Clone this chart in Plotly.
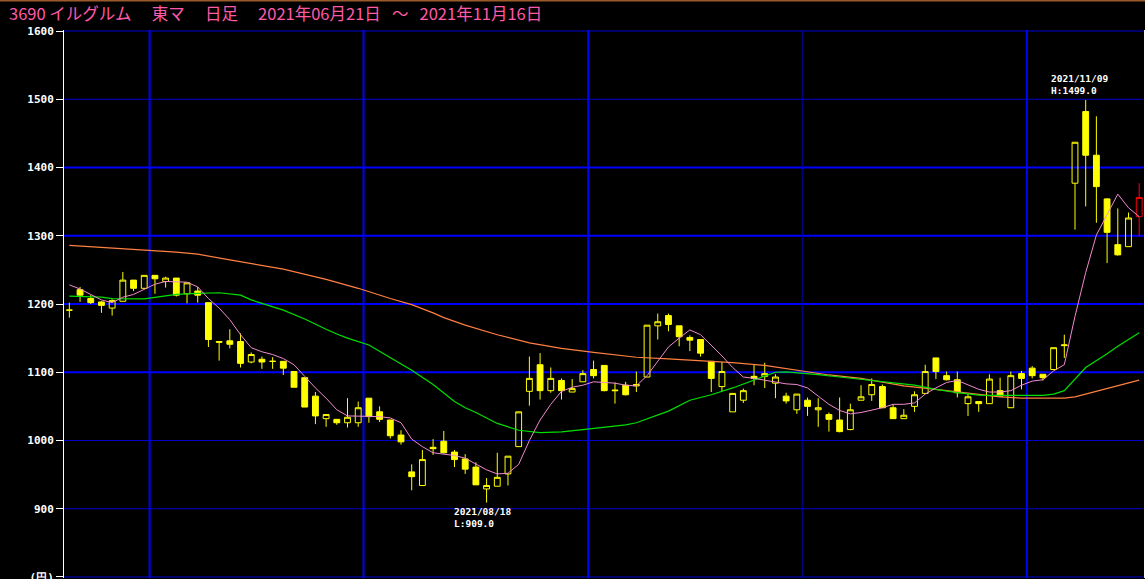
import plotly.graph_objects as go

# ---------------- data ----------------
month_days = {
    "2021-06": [21, 22, 23, 24, 25, 28, 29, 30],
    "2021-07": [1, 2, 5, 6, 7, 8, 9, 12, 13, 14, 15, 16, 19, 20, 21, 26, 27, 28, 29, 30],
    "2021-08": [2, 3, 4, 5, 6, 10, 11, 12, 13, 16, 17, 18, 19, 20, 23, 24, 25, 26, 27, 30, 31],
    "2021-09": [1, 2, 3, 6, 7, 8, 9, 10, 13, 14, 15, 16, 17, 21, 22, 24, 27, 28, 29, 30],
    "2021-10": [1, 4, 5, 6, 7, 8, 11, 12, 13, 14, 15, 18, 19, 20, 21, 22, 25, 26, 27, 28, 29],
    "2021-11": [1, 2, 4, 5, 8, 9, 10, 11, 12, 15, 16],
}
dates = [f"{m}-{d:02d}" for m, ds in month_days.items() for d in ds]

opens = [1191, 1221, 1208, 1203, 1194, 1204, 1235, 1223, 1242, 1233,
         1238, 1215, 1219, 1202, 1145, 1146, 1145, 1115, 1119, 1116,
         1116, 1101, 1092, 1065, 1032, 1031, 1026, 1026, 1062, 1042,
         1030, 1008, 954, 934, 990, 999, 983, 973, 961, 929,
         933, 951, 991, 1072, 1111, 1073, 1088, 1071, 1086, 1104,
         1110, 1074, 1081, 1080, 1093, 1168, 1183, 1168, 1151, 1148,
         1116, 1079, 1042, 1059, 1094, 1094, 1084, 1065, 1045, 1059,
         1045, 1038, 1030, 1016, 1059, 1067, 1079, 1048, 1032, 1050,
         1069, 1121, 1095, 1089, 1054, 1057, 1054, 1073, 1048, 1098,
         1106, 1097, 1104, 1139, 1377, 1482, 1418, 1354, 1287, 1284,
         1328]
highs = [1202, 1225, 1213, 1204, 1207, 1247, 1235, 1242, 1242, 1240,
         1238, 1231, 1225, 1202, 1145, 1163, 1157, 1129, 1123, 1122,
         1116, 1101, 1092, 1071, 1038, 1031, 1062, 1057, 1062, 1050,
         1030, 1015, 965, 986, 1002, 1014, 986, 980, 968, 945,
         982, 977, 1042, 1123, 1128, 1107, 1091, 1090, 1103, 1117,
         1110, 1085, 1086, 1101, 1169, 1186, 1186, 1168, 1154, 1148,
         1116, 1115, 1069, 1076, 1111, 1114, 1097, 1070, 1068, 1063,
         1062, 1041, 1063, 1054, 1081, 1091, 1082, 1053, 1046, 1072,
         1111, 1121, 1101, 1101, 1068, 1057, 1097, 1092, 1101, 1102,
         1109, 1097, 1136, 1155, 1437, 1499, 1475, 1355, 1340, 1334,
         1377]
lows = [1180, 1203, 1200, 1187, 1183, 1204, 1219, 1222, 1215, 1224,
        1211, 1201, 1202, 1137, 1117, 1135, 1107, 1113, 1105, 1105,
        1096, 1078, 1049, 1024, 1020, 1023, 1019, 1020, 1026, 1027,
        1003, 994, 927, 934, 979, 981, 961, 951, 935, 909,
        933, 934, 991, 1051, 1060, 1070, 1060, 1071, 1086, 1091,
        1072, 1054, 1066, 1071, 1093, 1148, 1160, 1138, 1131, 1123,
        1071, 1072, 1042, 1055, 1081, 1077, 1062, 1054, 1039, 1036,
        1020, 1013, 1012, 1015, 1059, 1058, 1048, 1032, 1032, 1042,
        1069, 1090, 1088, 1063, 1036, 1042, 1054, 1065, 1048, 1075,
        1091, 1088, 1104, 1121, 1309, 1343, 1319, 1260, 1271, 1284,
        1300]
closes = [1191, 1213, 1202, 1198, 1205, 1235, 1223, 1242, 1237, 1238,
          1213, 1231, 1213, 1148, 1144, 1141, 1113, 1126, 1115, 1116,
          1106, 1078, 1049, 1036, 1038, 1026, 1034, 1048, 1035, 1031,
          1007, 998, 947, 972, 988, 982, 972, 958, 935, 934,
          946, 977, 1042, 1091, 1073, 1091, 1073, 1076, 1098, 1095,
          1073, 1073, 1067, 1082, 1169, 1174, 1170, 1152, 1147, 1128,
          1091, 1101, 1069, 1073, 1091, 1098, 1093, 1058, 1068, 1050,
          1048, 1031, 1013, 1045, 1064, 1082, 1048, 1032, 1037, 1067,
          1101, 1101, 1089, 1070, 1064, 1054, 1090, 1065, 1095, 1091,
          1095, 1092, 1136, 1140, 1437, 1418, 1372, 1305, 1272, 1326,
          1356]

# 5-day moving average (pink), read per session
ma5 = [1228, 1222, 1214, 1206, 1202, 1210, 1214, 1222, 1229, 1233,
       1232, 1232, 1225, 1208, 1194, 1177, 1155, 1136, 1130, 1126,
       1120, 1111, 1094, 1077, 1062, 1045, 1036, 1036, 1036, 1035,
       1033, 1026, 1002, 991, 982, 980, 978, 974, 965, 957,
       951, 952, 965, 1000, 1030, 1053, 1072, 1078, 1081, 1086,
       1085, 1084, 1081, 1080, 1095, 1116, 1137, 1150, 1162, 1155,
       1140, 1124, 1107, 1093, 1091, 1088, 1086, 1083, 1082, 1077,
       1065, 1053, 1044, 1039, 1041, 1044, 1048, 1053, 1053, 1055,
       1068, 1077, 1085, 1088, 1082, 1075, 1071, 1071, 1073, 1081,
       1087, 1089, 1102, 1111, 1182, 1246, 1301, 1332, 1361, 1341,
       1328]

# 25-day moving average (green), read at sample sessions
ma25_idx = [0, 3, 4, 7, 9, 10, 12, 14, 16, 17, 18, 19, 20, 22, 23, 24, 25, 26, 28,
            30, 32, 34, 36, 37, 38, 40, 42, 44, 46, 48, 50, 52, 53, 56, 58, 60, 62,
            64, 66, 67, 68, 70, 72, 74, 76, 79, 81, 83, 85, 86, 91, 92, 93, 95, 97,
            98, 100]
ma25_val = [1211.6, 1210, 1208, 1207.5, 1212, 1214, 1215.5, 1216.5, 1213, 1206, 1201,
            1196, 1191, 1178, 1170, 1163, 1156, 1150, 1140, 1121, 1103, 1082, 1057,
            1048, 1041, 1025, 1015, 1011.6, 1012.6, 1016, 1019.5, 1022.8, 1026, 1043,
            1059, 1067, 1077, 1088, 1100, 1100.5, 1099.5, 1096.5, 1093, 1089.5, 1087,
            1081, 1075, 1070, 1066.5, 1066, 1066, 1068, 1073, 1107, 1127, 1138, 1158]

# 75-day moving average (orange), read at sample sessions
ma75_idx = [0, 1, 3, 5, 7, 8, 9, 10, 11, 12, 15, 20, 24, 27, 30, 32, 34, 35, 37, 40,
            43, 46, 49, 53, 56, 59, 62, 65, 68, 71, 74, 76, 78, 81, 84, 87, 89, 93,
            94, 97, 100]
ma75_val = [1286, 1285, 1283, 1282, 1280, 1279, 1277.5, 1276, 1274.5, 1273, 1264.7,
            1251, 1236, 1223, 1208, 1199, 1187, 1180, 1169, 1155, 1143, 1135, 1129,
            1122, 1119.7, 1117, 1114, 1110, 1103, 1096, 1091, 1086, 1080, 1075, 1069,
            1064, 1062, 1062, 1064, 1076, 1088.5]

month_starts = ["2021-07-01", "2021-08-02", "2021-09-01", "2021-10-01", "2021-11-01"]
y_ticks = [800, 900, 1000, 1100, 1200, 1300, 1400, 1500, 1600]
y_ticktext = ["(円)", "900", "1000", "1100", "1200", "1300", "1400", "1500", "1600"]

NB = "\u00a0"
title_text = ("3690" + NB + "イルグルム　" + NB + "東マ　" + NB + "日足　" + NB +
              "2021年06月21日" + NB * 3 + "～" + NB * 3 + "2021年11月16日")

# ---------------- figure ----------------
W, H = 1145, 579
ML, MR, MT, MB = 64, 1, 30, 1
n = len(dates)
xs = list(range(n))
last = n - 1

fig = go.Figure()

YEL = "#ffff00"
fig.add_trace(go.Candlestick(
    x=xs[:last], open=opens[:last], high=highs[:last], low=lows[:last], close=closes[:last],
    increasing=dict(line=dict(color=YEL, width=1), fillcolor="rgba(0,0,0,0)"),
    decreasing=dict(line=dict(color=YEL, width=1), fillcolor=YEL),
    whiskerwidth=0, hoverinfo="skip", showlegend=False,
))
fig.add_trace(go.Candlestick(
    x=[xs[last]], open=[opens[last]], high=[highs[last]], low=[lows[last]], close=[closes[last]],
    increasing=dict(line=dict(color="#ff0000", width=1), fillcolor="rgba(0,0,0,0)"),
    decreasing=dict(line=dict(color="#ff0000", width=1), fillcolor="#ff0000"),
    whiskerwidth=0, hoverinfo="skip", showlegend=False,
))

fig.add_trace(go.Scatter(x=ma75_idx, y=ma75_val, mode="lines",
                         line=dict(color="#ff8040", width=1.2), hoverinfo="skip", showlegend=False))
fig.add_trace(go.Scatter(x=ma25_idx, y=ma25_val, mode="lines",
                         line=dict(color="#00e000", width=1.2), hoverinfo="skip", showlegend=False))
fig.add_trace(go.Scatter(x=xs, y=ma5, mode="lines",
                         line=dict(color="#f08ad0", width=1), hoverinfo="skip", showlegend=False))

shapes = []
for v in y_ticks:
    strong = v in (1100, 1200, 1300, 1400)
    shapes.append(dict(type="line", xref="paper", yref="y", x0=0, x1=1, y0=v, y1=v,
                       layer="below",
                       line=dict(color="#0000ff" if strong else "#0000d0", width=2 if strong else 1)))
for d in month_starts:
    i = dates.index(d) - 0.5
    strong = d != "2021-10-01"
    shapes.append(dict(type="line", xref="x", yref="paper", x0=i, x1=i, y0=0, y1=1,
                       layer="below",
                       line=dict(color="#0000ff" if strong else "#0000c0", width=2 if strong else 1)))
plot_h = H - MT - MB
plot_w = W - ML - MR
shapes.append(dict(type="line", xref="paper", yref="paper", x0=-ML / plot_w, x1=1 + MR / plot_w,
                   y0=1 + (MT - 0.5) / plot_h, y1=1 + (MT - 0.5) / plot_h,
                   line=dict(color="#9a5a2a", width=2)))

annotations = [
    dict(xref="paper", yref="paper", x=(7 - ML) / plot_w, y=1 + (MT - 13) / plot_h,
         xanchor="left", yanchor="middle", showarrow=False, text=title_text,
         font=dict(family="Noto Sans CJK JP", size=16.5, color="#ff5aa8")),
]
hi_i = highs.index(max(highs))
lo_i = lows.index(min(lows))
annotations.append(dict(x=hi_i, y=highs[hi_i], xref="x", yref="y", xanchor="left", yanchor="bottom",
                        xshift=-37, yshift=2, showarrow=False, align="left",
                        text=f"{dates[hi_i].replace('-', '/')}<br>H:{highs[hi_i]:.1f}",
                        font=dict(family="DejaVu Sans Mono", size=9.5, color="#ffffff", weight="bold")))
annotations.append(dict(x=lo_i, y=lows[lo_i], xref="x", yref="y", xanchor="left", yanchor="top",
                        xshift=-35, yshift=-1, showarrow=False, align="left",
                        text=f"{dates[lo_i].replace('-', '/')}<br>L:{lows[lo_i]:.1f}",
                        font=dict(family="DejaVu Sans Mono", size=9.5, color="#ffffff", weight="bold")))

fig.update_layout(
    width=W, height=H,
    margin=dict(l=ML, r=MR, t=MT, b=MB, pad=0, autoexpand=False),
    paper_bgcolor="#000000", plot_bgcolor="#000000",
    shapes=shapes, annotations=annotations,
    boxgap=0.22,
    xaxis=dict(range=[-0.5, 100.45], showgrid=False, zeroline=False, showticklabels=False,
               showline=False, ticks="", rangeslider=dict(visible=False), fixedrange=True,
               automargin=False),
    yaxis=dict(range=[798.5, 1601.5], tickvals=y_ticks, ticktext=y_ticktext,
               showgrid=False, zeroline=False, showline=True, linecolor="#ffffff", linewidth=1,
               mirror=True, ticks="outside", ticklen=7, tickcolor="#ffffff", tickwidth=1,
               ticklabeloverflow="allow", automargin=False,
               tickfont=dict(family="DejaVu Sans Mono", size=11, color="#ffffff", weight="bold"),
               fixedrange=True),
    showlegend=False,
)

fig.write_html("out.html", config={"displayModeBar": False},
               post_script="document.body.style.margin='0';document.body.style.background='#000';")
